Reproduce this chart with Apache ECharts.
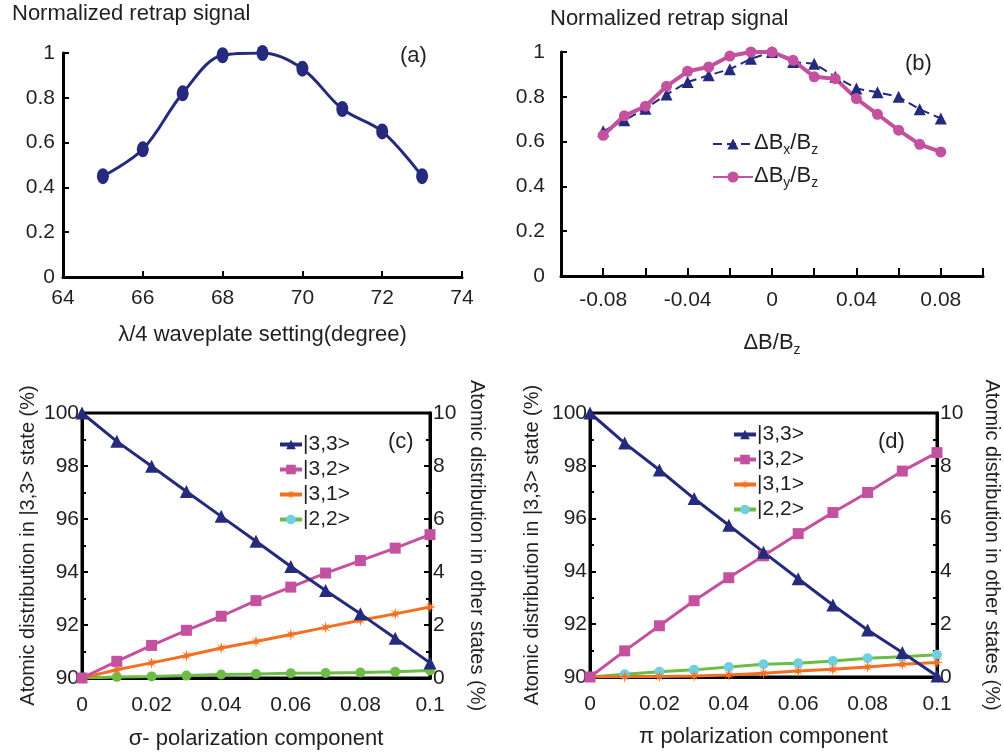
<!DOCTYPE html>
<html>
<head>
<meta charset="utf-8">
<script src="https://cdn.jsdelivr.net/npm/echarts@6/dist/echarts.min.js"></script>
<style>html,body{margin:0;padding:0;background:#fff}#c{width:1004px;height:755px}</style>
</head>
<body>
<div id="c"></div>
<script>
// ---------- data ----------
const aX = [65, 66, 67, 68, 69, 70, 71, 72, 73];
const aY = [0.45, 0.57, 0.82, 0.99, 1.0, 0.93, 0.75, 0.65, 0.45];

const bX = [-0.08, -0.07, -0.06, -0.05, -0.04, -0.03, -0.02, -0.01, 0, 0.01, 0.02, 0.03, 0.04, 0.05, 0.06, 0.07, 0.08];
const bBx = [0.646, 0.695, 0.747, 0.81, 0.866, 0.896, 0.923, 0.97, 1.0, 0.955, 0.948, 0.89, 0.837, 0.82, 0.80, 0.744, 0.703];
const bBy = [0.628, 0.715, 0.758, 0.847, 0.914, 0.933, 0.982, 1.0, 1.0, 0.963, 0.889, 0.881, 0.792, 0.722, 0.651, 0.588, 0.554];
const bTickLabels = ['-0.08', '-0.04', '0', '0.04', '0.08'];

const cdX = [0, 0.01, 0.02, 0.03, 0.04, 0.05, 0.06, 0.07, 0.08, 0.09, 0.1];
const c33 = [100, 98.93, 97.99, 97.04, 96.1, 95.16, 94.21, 93.3, 92.42, 91.5, 90.57];
const c32 = [0, 0.63, 1.23, 1.8, 2.33, 2.92, 3.43, 3.96, 4.43, 4.9, 5.41];
const c31 = [0, 0.31, 0.57, 0.84, 1.13, 1.38, 1.64, 1.91, 2.18, 2.42, 2.68];
const c22 = [0, 0.04, 0.06, 0.09, 0.13, 0.15, 0.18, 0.19, 0.21, 0.24, 0.28];

const d33 = [100, 98.86, 97.84, 96.76, 95.75, 94.73, 93.72, 92.73, 91.78, 90.93, 90.04];
const d32 = [0, 0.99, 1.94, 2.89, 3.76, 4.59, 5.43, 6.23, 6.99, 7.80, 8.50];
const d31 = [0, 0.01, 0.02, 0.04, 0.08, 0.14, 0.23, 0.29, 0.38, 0.48, 0.55];
const d22 = [0, 0.1, 0.2, 0.27, 0.38, 0.48, 0.52, 0.61, 0.71, 0.77, 0.84];

const stateNames = ['|3,3>', '|3,2>', '|3,1>', '|2,2>'];
const bNames = ['ΔBx/Bz', 'ΔBy/Bz'];

// ---------- style ----------
const FONT = 'Liberation Sans';
const TXT = '#231f20';
const NAVY = '#262a7c', PINK = '#c4519f', ORANGE = '#f36f21', GREEN = '#6cbd45', CYAN = '#6fd0e2';
const STAR = 'path://M10,0 L11.6,7 L17.1,2.9 L13,8.4 L20,10 L13,11.6 L17.1,17.1 L11.6,13 L10,20 L8.4,13 L2.9,17.1 L7,11.6 L0,10 L7,8.4 L2.9,2.9 L8.4,7 Z';

const pairs = (xs, ys) => xs.map((x, i) => [x, ys[i]]);
const lbl = (extra) => Object.assign({ fontSize: 21, color: TXT, fontFamily: FONT }, extra || {});
const axLine = { show: true, onZero: false, lineStyle: { color: '#000', width: 3 } };
const tickIn = (len) => ({ show: true, inside: true, length: len, lineStyle: { color: '#000', width: 2 } });
const minorIn = { show: true, splitNumber: 2, length: 4, lineStyle: { color: '#000', width: 2 } };
const yNameStyle = { fontSize: 20, color: TXT, fontFamily: FONT };
const xNameStyle = { fontSize: 22, color: TXT, fontFamily: FONT };
const titleStyle = { fontSize: 22, fontWeight: 'normal', color: TXT, fontFamily: FONT, lineHeight: 24 };
const subRich = {
  a: { fontSize: 22, lineHeight: 24, verticalAlign: 'top', color: TXT, fontFamily: FONT },
  b: { fontSize: 14, lineHeight: 13, padding: [11, 0, 0, 0], verticalAlign: 'top', color: TXT, fontFamily: FONT }
};

const chart = echarts.init(document.getElementById('c'), null, { renderer: 'canvas' });

const stateLegendData = [{ name: stateNames[0] }, { name: stateNames[1] }, { name: stateNames[2] }, { name: stateNames[3], itemStyle: { color: CYAN } }];

const option = {
  animation: false,
  backgroundColor: '#fff',
  title: [
    { text: 'Normalized retrap signal', left: 12, top: 2, padding: 0, textStyle: titleStyle },
    { text: 'Normalized retrap signal', left: 550, top: 7, padding: 0, textStyle: titleStyle },
    { text: '(a)', left: 400, top: 44, padding: 0, textStyle: titleStyle },
    { text: '(b)', left: 905, top: 52, padding: 0, textStyle: titleStyle },
    { text: '(c)', left: 388, top: 430, padding: 0, textStyle: titleStyle },
    { text: '(d)', left: 878, top: 430, padding: 0, textStyle: titleStyle }
  ],
  legend: [
    {
      data: bNames, orient: 'vertical', left: 707, top: 127, itemWidth: 40, itemHeight: 14, itemGap: 8,
      formatter: (n) => n === bNames[0] ? '{a|ΔB}{b|x}{a|/B}{b|z}' : '{a|ΔB}{b|y}{a|/B}{b|z}',
      textStyle: { rich: subRich, padding: [0, 0, 0, -4] }
    },
    {
      data: stateLegendData, orient: 'vertical', left: 273, top: 429, itemWidth: 22, itemHeight: 12, itemGap: 4,
      lineStyle: { width: 4 },
      textStyle: { fontSize: 21, color: TXT, fontFamily: FONT, padding: [0, 0, 0, -4] }
    },
    {
      data: stateLegendData, orient: 'vertical', left: 727, top: 419, itemWidth: 22, itemHeight: 12, itemGap: 4,
      lineStyle: { width: 4 },
      textStyle: { fontSize: 21, color: TXT, fontFamily: FONT, padding: [0, 0, 0, -4] }
    }
  ],
  grid: [
    { left: 63, top: 53, width: 399, height: 224 },
    { left: 561, top: 52, width: 422, height: 224 },
    { left: 82, top: 413, width: 348, height: 265, show: true, borderColor: '#000', borderWidth: 3 },
    { left: 590, top: 413, width: 347, height: 264, show: true, borderColor: '#000', borderWidth: 3 }
  ],
  xAxis: [
    { gridIndex: 0, type: 'value', min: 64, max: 74, interval: 2, axisLine: axLine, axisTick: tickIn(6), splitLine: { show: false },
      axisLabel: lbl({ margin: 11 }), name: 'λ/4 waveplate setting(degree)', nameLocation: 'middle', nameGap: 47, nameTextStyle: xNameStyle },
    { gridIndex: 1, type: 'value', min: -0.1, max: 0.1, interval: 0.02, axisLine: axLine, axisTick: tickIn(8), splitLine: { show: false },
      axisLabel: lbl({ margin: 14, formatter: (v) => {
        const r = Math.round(v * 100);
        const s = r === 0 ? '0' : (r / 100).toFixed(2);
        return bTickLabels.indexOf(s) >= 0 ? s : '';
      } }),
      name: '{a|ΔB/B}{b|z}', nameLocation: 'middle', nameGap: 56, nameTextStyle: { rich: subRich } },
    { gridIndex: 2, type: 'value', min: 0, max: 0.1, interval: 0.02, axisLine: axLine, axisTick: { show: false }, splitLine: { show: false },
      axisLabel: lbl({ margin: 17 }), name: 'σ- polarization component', nameLocation: 'middle', nameGap: 50, nameTextStyle: xNameStyle },
    { gridIndex: 3, type: 'value', min: 0, max: 0.1, interval: 0.02, axisLine: axLine, axisTick: { show: false }, splitLine: { show: false },
      axisLabel: lbl({ margin: 17 }), name: 'π polarization component', nameLocation: 'middle', nameGap: 49, nameTextStyle: xNameStyle }
  ],
  yAxis: [
    { gridIndex: 0, type: 'value', min: 0, max: 1, interval: 0.2, axisLine: axLine, axisTick: tickIn(6), splitLine: { show: false }, axisLabel: lbl({ margin: 8 }) },
    { gridIndex: 1, type: 'value', min: 0, max: 1, interval: 0.2, axisLine: axLine, axisTick: tickIn(6), splitLine: { show: false }, axisLabel: lbl({ margin: 16 }) },
    { gridIndex: 2, type: 'value', position: 'left', min: 90, max: 100, interval: 2, axisLine: axLine, axisTick: tickIn(6), minorTick: minorIn, splitLine: { show: false },
      axisLabel: lbl({ margin: 3 }), name: 'Atomic distribution in |3,3> state (%)', nameLocation: 'middle', nameRotate: 90, nameGap: 44, nameTextStyle: yNameStyle },
    { gridIndex: 2, type: 'value', position: 'right', min: 0, max: 10, interval: 2, axisLine: axLine, axisTick: tickIn(6), minorTick: minorIn, splitLine: { show: false },
      axisLabel: lbl({ margin: 3 }), name: 'Atomic distribution in other states (%)', nameLocation: 'middle', nameRotate: -90, nameGap: 37, nameTextStyle: yNameStyle },
    { gridIndex: 3, type: 'value', position: 'left', min: 90, max: 100, interval: 2, axisLine: axLine, axisTick: tickIn(6), minorTick: minorIn, splitLine: { show: false },
      axisLabel: lbl({ margin: 3 }), name: 'Atomic distribution in |3,3> state (%)', nameLocation: 'middle', nameRotate: 90, nameGap: 48, nameTextStyle: yNameStyle },
    { gridIndex: 3, type: 'value', position: 'right', min: 0, max: 10, interval: 2, axisLine: axLine, axisTick: tickIn(6), minorTick: minorIn, splitLine: { show: false },
      axisLabel: lbl({ margin: 3 }), name: 'Atomic distribution in other states (%)', nameLocation: 'middle', nameRotate: -90, nameGap: 45, nameTextStyle: yNameStyle }
  ],
  series: [
    { name: 'a', type: 'line', xAxisIndex: 0, yAxisIndex: 0, data: pairs(aX, aY), smooth: 0.35, color: NAVY,
      lineStyle: { width: 3, color: NAVY }, symbol: 'circle', symbolSize: [12, 16], itemStyle: { color: NAVY } },

    { name: bNames[0], type: 'line', xAxisIndex: 1, yAxisIndex: 1, data: pairs(bX, bBx), color: NAVY,
      lineStyle: { width: 2, type: [9, 5], color: NAVY }, symbol: 'triangle', symbolSize: 12, itemStyle: { color: NAVY } },
    { name: bNames[1], type: 'line', xAxisIndex: 1, yAxisIndex: 1, data: pairs(bX, bBy), color: PINK,
      lineStyle: { width: 4, color: PINK }, symbol: 'circle', symbolSize: 11, itemStyle: { color: PINK } },

    { name: stateNames[3], type: 'line', xAxisIndex: 2, yAxisIndex: 3, data: pairs(cdX, c22), color: GREEN,
      lineStyle: { width: 3, color: GREEN }, symbol: 'circle', symbolSize: 10, itemStyle: { color: GREEN } },
    { name: stateNames[2], type: 'line', xAxisIndex: 2, yAxisIndex: 3, data: pairs(cdX, c31), color: ORANGE,
      lineStyle: { width: 3, color: ORANGE }, symbol: STAR, symbolSize: 12, itemStyle: { color: ORANGE } },
    { name: stateNames[1], type: 'line', xAxisIndex: 2, yAxisIndex: 3, data: pairs(cdX, c32), color: PINK,
      lineStyle: { width: 3, color: PINK }, symbol: 'rect', symbolSize: 11, itemStyle: { color: PINK } },
    { name: stateNames[0], type: 'line', xAxisIndex: 2, yAxisIndex: 2, data: pairs(cdX, c33), color: NAVY,
      lineStyle: { width: 3, color: NAVY }, symbol: 'triangle', symbolSize: 13, itemStyle: { color: NAVY } },

    { name: stateNames[3], type: 'line', xAxisIndex: 3, yAxisIndex: 5, data: pairs(cdX, d22), color: GREEN,
      lineStyle: { width: 3, color: GREEN }, symbol: 'circle', symbolSize: 10, itemStyle: { color: CYAN } },
    { name: stateNames[2], type: 'line', xAxisIndex: 3, yAxisIndex: 5, data: pairs(cdX, d31), color: ORANGE,
      lineStyle: { width: 3, color: ORANGE }, symbol: STAR, symbolSize: 12, itemStyle: { color: ORANGE } },
    { name: stateNames[1], type: 'line', xAxisIndex: 3, yAxisIndex: 5, data: pairs(cdX, d32), color: PINK,
      lineStyle: { width: 3, color: PINK }, symbol: 'rect', symbolSize: 11, itemStyle: { color: PINK } },
    { name: stateNames[0], type: 'line', xAxisIndex: 3, yAxisIndex: 4, data: pairs(cdX, d33), color: NAVY,
      lineStyle: { width: 3, color: NAVY }, symbol: 'triangle', symbolSize: 13, itemStyle: { color: NAVY } }
  ]
};
chart.setOption(option);
</script>
</body>
</html>
